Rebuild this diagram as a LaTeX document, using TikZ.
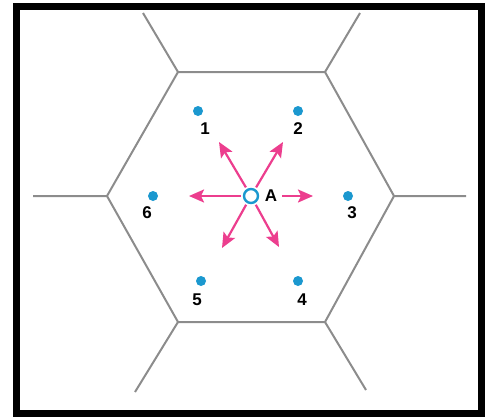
\documentclass[tikz,border=0pt]{standalone}
\usepackage{fontspec}
\newfontfamily\labfont{Liberation Sans}
\usetikzlibrary{arrows.meta,calc}
\definecolor{dotblue}{HTML}{1B98CF}
\definecolor{arrpink}{HTML}{EC3E8E}
\definecolor{edgegray}{HTML}{8C8C8C}
\tikzset{
  cell/.style={draw=edgegray,line width=2pt,line join=round},
  site/.style={circle,fill=dotblue,minimum size=10pt,inner sep=0pt},
  lab/.style={font=\labfont\fontsize{17}{17}\selectfont\bfseries,inner sep=0pt},
  push/.style={draw=arrpink,line width=2.2pt,-{Stealth[length=15pt,width=13pt,inset=3pt]}},
}
\begin{document}
\begin{tikzpicture}[x=1pt,y=-1pt]
\useasboundingbox (0,0) rectangle (486,418);
\draw[line width=7pt] (16.5,6.5) rectangle (481,413.5);
% hexagon vertices
\coordinate (v1) at (178,72);
\coordinate (v2) at (325,72);
\coordinate (v3) at (394,196);
\coordinate (v4) at (325,322);
\coordinate (v5) at (178,322);
\coordinate (v6) at (107,196);
\coordinate (o1) at (143,13);
\coordinate (o2) at (360,13);
\coordinate (o3) at (466,196);
\coordinate (o4) at (366,390);
\coordinate (o5) at (135,392);
\coordinate (o6) at (33,196);
\draw[cell] (v1)--(v2)--(v3)--(v4)--(v5)--(v6)--cycle;
\draw[cell] (v1)--(o1) (v2)--(o2) (v3)--(o3) (v4)--(o4) (v5)--(o5) (v6)--(o6);
% sites
\node[site] (d1) at (198,111) {};
\node[site] (d2) at (298,111) {};
\node[site] (d3) at (348,196) {};
\node[site] (d4) at (298,281) {};
\node[site] (d5) at (201,281) {};
\node[site] (d6) at (153,196) {};
\node[lab] (l1) at (205,129) {1};
\node[lab] (l2) at (298,129) {2};
\node[lab] (l3) at (352,213) {3};
\node[lab] (l4) at (302,300) {4};
\node[lab] (l5) at (197,300) {5};
\node[lab] (l6) at (147,213) {6};
% arrows
\coordinate (c) at (251,196);
\coordinate (t1) at (219,142);
\coordinate (t2) at (283,142);
\coordinate (t3) at (313,196);
\coordinate (t4) at (279,247);
\coordinate (t5) at (222,248);
\coordinate (t6) at (189,196);
\draw[push] ($(c)!10pt!(t1)$) -- (t1);
\draw[push] ($(c)!10pt!(t2)$) -- (t2);
\draw[push] (282,196) -- (t3);
\draw[push] ($(c)!10pt!(t4)$) -- (t4);
\draw[push] ($(c)!10pt!(t5)$) -- (t5);
\draw[push] ($(c)!10pt!(t6)$) -- (t6);
\node[circle,draw=dotblue,line width=2.4pt,fill=white,minimum size=14pt,inner sep=0pt] (A) at (c) {};
\node[lab] (lA) at (271,196) {A};
\end{tikzpicture}
\end{document}
